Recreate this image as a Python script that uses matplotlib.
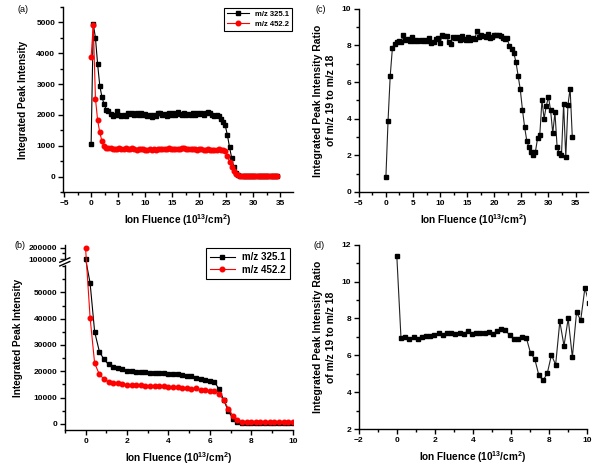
import matplotlib.pyplot as plt
import numpy as np
from matplotlib.ticker import MultipleLocator, FixedLocator

plt.rcParams['font.family'] = 'Liberation Sans'
plt.rcParams['font.weight'] = 'bold'
plt.rcParams['mathtext.fontset'] = 'custom'
plt.rcParams['mathtext.rm'] = 'Liberation Sans:bold'
plt.rcParams['mathtext.bf'] = 'Liberation Sans:bold'
plt.rcParams['mathtext.default'] = 'rm'
plt.rcParams['axes.linewidth'] = 1.0

# fluence grid for panels (a) and (c), 10^13 ions/cm^2
fluence_ac = [0.0, 0.4, 0.8, 1.2, 1.6, 2.0, 2.4, 2.8, 3.2, 3.6,
              4.0, 4.4, 4.8, 5.2, 5.6, 6.0, 6.4, 6.8, 7.2, 7.6,
              8.0, 8.4, 8.8, 9.2, 9.6, 10.0, 10.4, 10.8, 11.2, 11.6,
              12.0, 12.4, 12.8, 13.2, 13.6, 14.0, 14.4, 14.8, 15.2, 15.6,
              16.0, 16.4, 16.8, 17.2, 17.6, 18.0, 18.4, 18.8, 19.2, 19.6,
              20.0, 20.4, 20.8, 21.2, 21.6, 22.0, 22.4, 22.8, 23.2, 23.6,
              24.0, 24.4, 24.8, 25.2, 25.6, 26.0, 26.4, 26.8, 27.2, 27.6,
              28.0, 28.4, 28.8, 29.2, 29.6, 30.0, 30.4, 30.8, 31.2, 31.6,
              32.0, 32.4, 32.8, 33.2, 33.6, 34.0, 34.4]

a_325 = [1050, 4950, 4500, 3650, 2950, 2580, 2350, 2170, 2120, 2020,
         1950, 2000, 2130, 1980, 1960, 2000, 1970, 2050, 2020, 2060,
         2010, 2070, 2000, 2050, 1980, 2030, 1960, 2000, 1920, 2000,
         1960, 2070, 2060, 2000, 2030, 1970, 2060, 2000, 2070, 2000,
         2080, 2020, 1990, 2060, 2000, 2040, 2000, 2060, 2000, 2050,
         2020, 2060, 2010, 2050, 2080, 2060, 2000, 1970, 2000, 1960,
         1880, 1780, 1660, 1350, 950, 600, 300, 120, 40, 15,
         5, 5, 5, 5, 5, 5, 5, 5, 5, 5,
         5, 5, 5, 5, 5, 5, 5]

a_452 = [3870, 4930, 2530, 1830, 1430, 1150, 990, 940, 910, 920,
         890, 900, 880, 920, 900, 880, 910, 900, 890, 910,
         900, 870, 880, 880, 900, 860, 870, 880, 860, 890,
         870, 880, 900, 890, 880, 900, 910, 890, 880, 900,
         900, 880, 920, 930, 900, 890, 900, 880, 890, 870,
         900, 880, 860, 870, 880, 850, 870, 860, 850, 880,
         850, 860, 820, 650, 480, 300, 170, 80, 40, 20,
         8, 8, 8, 8, 8, 8, 8, 8, 8, 8,
         8, 8, 8, 8, 8, 8, 8]

c_ratio = [0.8, 3.9, 6.35, 7.85, 8.1, 8.2, 8.25, 8.2, 8.55, 8.3,
           8.35, 8.25, 8.45, 8.25, 8.3, 8.25, 8.3, 8.25, 8.3, 8.25,
           8.4, 8.15, 8.2, 8.35, 8.4, 8.15, 8.55, 8.5, 8.5, 8.2,
           8.1, 8.45, 8.4, 8.45, 8.3, 8.5, 8.35, 8.3, 8.45, 8.3,
           8.4, 8.35, 8.8, 8.45, 8.55, 8.5, 8.45, 8.65, 8.4, 8.45,
           8.6, 8.6, 8.55, 8.5, 8.4, 8.35, 8.4, 7.95, 7.8, 7.6,
           7.1, 6.35, 5.6, 4.5, 3.55, 2.8, 2.45, 2.2, 2.0, 2.2,
           2.95, 3.1, 5.0, 4.0, 4.7, 5.2, 4.45, 3.2, 4.35, 2.45,
           2.1, 2.0, 4.8, 1.9, 4.75, 5.65, 3.0]

# panel (b)
fluence_b = [0.0, 0.22, 0.44, 0.67, 0.89, 1.11, 1.33, 1.56, 1.78, 2.0,
             2.22, 2.44, 2.67, 2.89, 3.11, 3.33, 3.56, 3.78, 4.0, 4.22,
             4.44, 4.67, 4.89, 5.11, 5.33, 5.56, 5.78, 6.0, 6.22, 6.44,
             6.67, 6.89, 7.11, 7.33, 7.56, 7.78, 8.0, 8.22, 8.44, 8.67,
             8.89, 9.11, 9.33, 9.56, 9.78, 10.0]

b_325 = [105000, 53600, 35000, 27400, 24500, 22600, 21700, 21300, 20700, 20000,
         20000, 19800, 19700, 19600, 19400, 19300, 19300, 19200, 19100, 19000,
         18900, 18600, 18300, 18000, 17600, 17200, 16800, 16300, 15800, 13300,
         9000, 4800, 2000, 700, 400, 300, 300, 300, 300, 300,
         300, 300, 300, 300, 300, 300]

b_452 = [200000, 40400, 23000, 18800, 17000, 16000, 15700, 15500, 15100, 14900,
         14800, 14700, 14600, 14500, 14300, 14200, 14300, 14200, 14100, 14000,
         14100, 13800, 13500, 13400, 13500, 12900, 12700, 12600, 12300, 11300,
         9000, 5700, 3000, 1300, 800, 600, 600, 600, 600, 600,
         600, 600, 600, 600, 600, 600]

# panel (d)
fluence_d = [0.0, 0.22, 0.44, 0.66, 0.88, 1.1, 1.32, 1.54, 1.76, 1.98,
             2.2, 2.42, 2.64, 2.86, 3.08, 3.3, 3.52, 3.74, 3.96, 4.18,
             4.4, 4.62, 4.84, 5.06, 5.28, 5.5, 5.72, 5.94, 6.16, 6.38,
             6.6, 6.82, 7.04, 7.26, 7.48, 7.7, 7.92, 8.14, 8.36, 8.58,
             8.8, 9.02, 9.24, 9.46, 9.68, 9.9, 10.12]

d_ratio = [11.4, 6.95, 7.0, 6.9, 7.0, 6.9, 7.0, 7.05, 7.05, 7.1,
           7.2, 7.1, 7.2, 7.2, 7.15, 7.2, 7.17, 7.33, 7.17, 7.21,
           7.21, 7.2, 7.26, 7.17, 7.33, 7.44, 7.35, 7.1, 6.9, 6.9,
           7.0, 6.94, 6.12, 5.81, 4.91, 4.64, 5.03, 6.03, 5.49, 7.84,
           6.52, 8.0, 5.9, 8.33, 7.91, 9.65, 8.84]

labels = ['m/z 325.1', 'm/z 452.2']
xlab = 'Ion Fluence (10$^{13}$/cm$^{2}$)'
ylab_int = 'Integrated Peak Intensity'
ylab_ratio = 'Integrated Peak Intensity Ratio\nof m/z 19 to m/z 18'

LAB = 7.2
TICK = 6


def style(ax):
    ax.spines['top'].set_visible(False)
    ax.spines['right'].set_visible(False)
    ax.tick_params(which='major', direction='out', length=3.5, width=1, labelsize=TICK, pad=2)
    ax.tick_params(which='minor', direction='out', length=2, width=1)
    for t in ax.get_xticklabels() + ax.get_yticklabels():
        t.set_fontweight('bold')


def legend(ax, size, hl, pad):
    leg = ax.legend(loc='upper right', fancybox=False, edgecolor='black',
                    prop={'size': size, 'weight': 'bold'}, handlelength=hl,
                    borderaxespad=pad, framealpha=1, borderpad=0.4, labelspacing=0.3)
    leg.get_frame().set_linewidth(0.8)


fig = plt.figure(figsize=(6, 4.67), dpi=100)
ax_a = fig.add_axes([0.105, 0.589, 0.383, 0.396])
ax_c = fig.add_axes([0.598, 0.589, 0.382, 0.392])
ax_b = fig.add_axes([0.108, 0.079, 0.38, 0.396])
ax_d = fig.add_axes([0.598, 0.081, 0.38, 0.395])

blk = dict(color='black', marker='s', markersize=3.3, lw=0.8)
red = dict(color='red', marker='o', markersize=3.3, lw=0.8)
gry = dict(color='#222222', marker='s', markersize=3.3, lw=0.8, mfc='black', mec='black')

# (a)
ax_a.plot(fluence_ac, a_325, label=labels[0], **blk)
ax_a.plot(fluence_ac, a_452, label=labels[1], **red)
ax_a.set_xlim(-5.2, 37.3)
ax_a.set_ylim(-500, 5500)
ax_a.xaxis.set_major_locator(MultipleLocator(5))
ax_a.xaxis.set_minor_locator(MultipleLocator(2.5))
ax_a.yaxis.set_major_locator(MultipleLocator(1000))
ax_a.yaxis.set_minor_locator(MultipleLocator(500))
ax_a.set_ylabel(ylab_int, fontsize=LAB, fontweight='bold', labelpad=6)
ax_a.set_xlabel(xlab, fontsize=LAB, fontweight='bold', labelpad=4)
legend(ax_a, 5.5, 2.9, 0.1)
style(ax_a)

# (c)
ax_c.plot(fluence_ac, c_ratio, **gry)
ax_c.set_xlim(-5, 37.3)
ax_c.set_ylim(0, 10)
ax_c.xaxis.set_major_locator(MultipleLocator(5))
ax_c.xaxis.set_minor_locator(MultipleLocator(2.5))
ax_c.yaxis.set_major_locator(MultipleLocator(2))
ax_c.yaxis.set_minor_locator(MultipleLocator(1))
ax_c.set_ylabel(ylab_ratio, fontsize=7.5, fontweight='bold', labelpad=4, linespacing=1.45)
ax_c.set_xlabel(xlab, fontsize=LAB, fontweight='bold', labelpad=4)
style(ax_c)

# (b) with a compressed upper region (axis break)
brk_in = [-1e7, 60000, 100000, 1e7]
brk_out = [-1e7, 60000, 62600, 62600 + 9.9e6 * 0.0447]


def fwd(y):
    return np.interp(y, brk_in, brk_out)


def inv(y):
    return np.interp(y, brk_out, brk_in)


ax_b.set_yscale('function', functions=(fwd, inv))
ax_b.plot(fluence_b, b_325, label=labels[0], **blk)
ax_b.plot(fluence_b, b_452, label=labels[1], **red)
ax_b.set_xlim(-1, 10)
ax_b.set_ylim(-2400, 220000)
ax_b.xaxis.set_major_locator(MultipleLocator(2))
ax_b.xaxis.set_minor_locator(MultipleLocator(1))
ax_b.yaxis.set_major_locator(FixedLocator([0, 10000, 20000, 30000, 40000, 50000, 100000, 200000]))
ax_b.yaxis.set_minor_locator(FixedLocator([5000, 15000, 25000, 35000, 45000, 55000, 60000, 150000]))
ax_b.yaxis.set_major_formatter(plt.FuncFormatter(lambda v, p: '%d' % v))
ax_b.set_ylabel(ylab_int, fontsize=LAB, fontweight='bold', labelpad=4)
ax_b.set_xlabel(xlab, fontsize=LAB, fontweight='bold', labelpad=4)
legend(ax_b, 7, 2.5, 0.3)
style(ax_b)
# break marks on the left spine
fb = (61600 + 2400) / (67950 + 2400)
ax_b.add_patch(plt.Rectangle((-0.02, fb - 0.01), 0.04, 0.02, transform=ax_b.transAxes,
                             color='white', clip_on=False, zorder=5))
for off in (-0.01, 0.01):
    ax_b.plot([-0.022, 0.022], [fb + off - 0.012, fb + off + 0.012], transform=ax_b.transAxes,
              color='black', lw=1, clip_on=False, zorder=6)

# (d)
ax_d.plot(fluence_d, d_ratio, **gry)
ax_d.set_xlim(-2, 10)
ax_d.set_ylim(2, 12)
ax_d.xaxis.set_major_locator(MultipleLocator(2))
ax_d.xaxis.set_minor_locator(MultipleLocator(1))
ax_d.yaxis.set_major_locator(MultipleLocator(2))
ax_d.yaxis.set_minor_locator(MultipleLocator(1))
ax_d.set_ylabel(ylab_ratio, fontsize=7.5, fontweight='bold', labelpad=4, linespacing=1.45)
ax_d.set_xlabel(xlab, fontsize=LAB, fontweight='bold', labelpad=4)
style(ax_d)

for txt, x, y in [('(a)', 0.03, 0.99), ('(c)', 0.525, 0.99), ('(b)', 0.024, 0.485), ('(d)', 0.522, 0.485)]:
    fig.text(x, y, txt, fontsize=6.5, fontweight='normal', va='top')

fig.savefig('out.png', dpi=100)
